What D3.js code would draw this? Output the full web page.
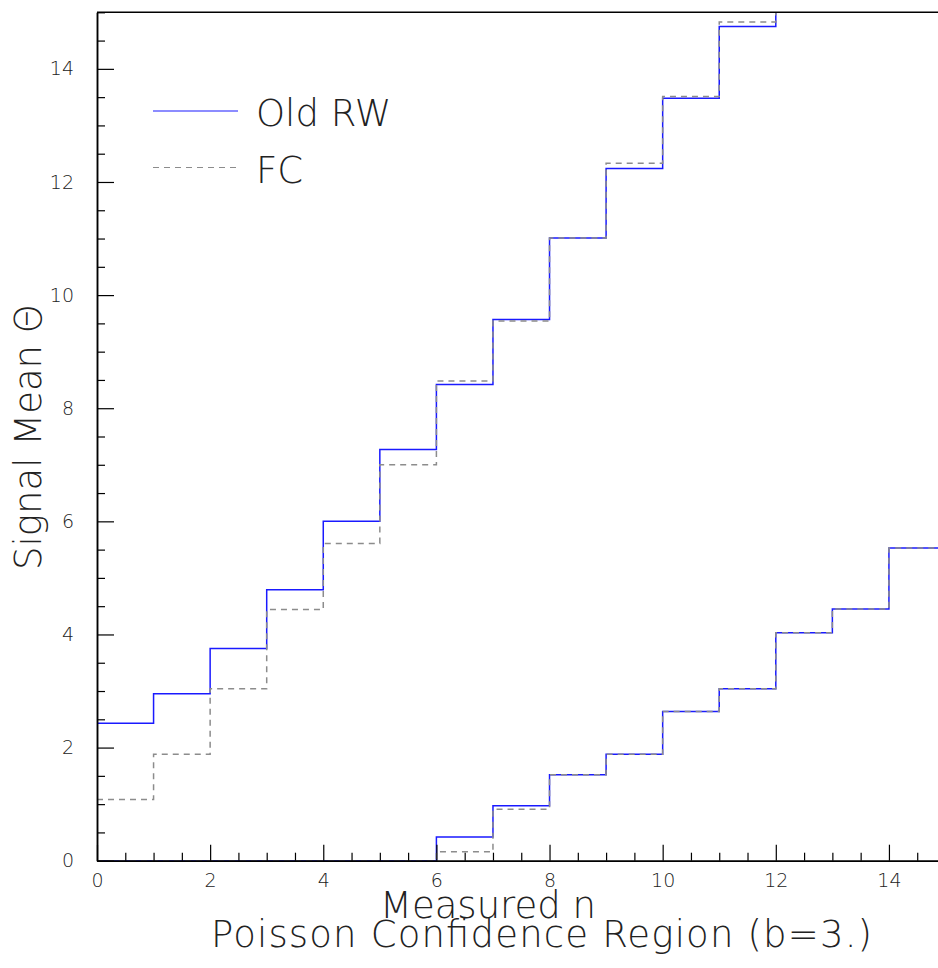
<!DOCTYPE html>
<html>
<head>
<meta charset="utf-8">
<script src="https://cdn.jsdelivr.net/npm/d3@7"></script>
<style>
  html, body { margin: 0; padding: 0; background: #fff; }
  svg { display: block; }
  text { font-family: "DejaVu Sans", "Noto Sans", sans-serif; font-weight: 200; fill: #222; }
</style>
</head>
<body>
<svg id="chart" width="938" height="968"></svg>
<script>
// ---- data ----
// bins n = 0 .. k, each step spans [n, n+1)
const upperRW = [2.43, 2.95, 3.75, 4.79, 6.00, 7.27, 8.42, 9.57, 11.01, 12.24, 13.48, 14.75, 16.2];
const upperFC = [1.08, 1.88, 3.04, 4.44, 5.61, 7.00, 8.48, 9.54, 11.01, 12.33, 13.51, 14.83, 16.2];
const lowerRW = [0, 0, 0, 0, 0, 0, 0.42, 0.97, 1.52, 1.88, 2.64, 3.04, 4.03, 4.45, 5.53];
const lowerFC = [0, 0, 0, 0, 0, 0, 0.16, 0.91, 1.52, 1.88, 2.64, 3.04, 4.03, 4.45, 5.53];
const xTicks = [0, 2, 4, 6, 8, 10, 12, 14];
const yTicks = [0, 2, 4, 6, 8, 10, 12, 14];
const legendLabels = ["Old RW", "FC"];
const xTitle = "Measured n";
const yTitle = "Signal Mean \u0398";
const caption = "Poisson Confidence Region (b=3.)";

// ---- layout ----
const svg = d3.select("#chart");
const x = d3.scaleLinear().domain([0, 15]).range([97, 945.5]);
const y = d3.scaleLinear().domain([0, 15]).range([860.7, 12.3]);

svg.append("defs").append("clipPath").attr("id", "plotclip")
  .append("rect").attr("x", x(0)).attr("y", y(15))
  .attr("width", x(15) - x(0)).attr("height", y(0) - y(15));

const minorX = d3.range(0, 15.01, 0.5).filter(v => v % 2 !== 0);
const minorY = d3.range(0, 15.01, 0.5).filter(v => v % 2 !== 0);

// step series
function stepPts(vals) {
  const pts = vals.map((v, i) => [i, v]);
  pts.push([vals.length, vals[vals.length - 1]]);
  return pts;
}
const line = d3.line().x(d => x(d[0])).y(d => y(d[1])).curve(d3.curveStepAfter);

const g = svg.append("g").attr("clip-path", "url(#plotclip)");
const blue = "#1a1aff";
const grey = "#8c8c8c";
[upperRW, lowerRW].forEach(s => {
  g.append("path").attr("d", line(stepPts(s)))
    .attr("fill", "none").attr("stroke", blue).attr("stroke-width", 1.5);
});
[upperFC, lowerFC].forEach(s => {
  g.append("path").attr("d", line(stepPts(s)))
    .attr("fill", "none").attr("stroke", grey).attr("stroke-width", 1.5)
    .attr("stroke-dasharray", "6,5");
});

// axes
const xMinor = svg.append("g").attr("transform", `translate(0,${y(0)})`)
  .call(d3.axisBottom(x).tickValues(minorX).tickSize(-8).tickSizeOuter(0).tickFormat(""));
const xMajor = svg.append("g").attr("transform", `translate(0,${y(0)})`)
  .call(d3.axisBottom(x).tickValues(xTicks).tickSize(-16).tickSizeOuter(0).tickPadding(13).tickFormat(d3.format("d")));
const yMinor = svg.append("g").attr("transform", `translate(${x(0)},0)`)
  .call(d3.axisLeft(y).tickValues(minorY).tickSize(-8).tickSizeOuter(0).tickFormat(""));
const yMajor = svg.append("g").attr("transform", `translate(${x(0)},0)`)
  .call(d3.axisLeft(y).tickValues(yTicks).tickSize(-17).tickSizeOuter(0).tickPadding(23).tickFormat(d3.format("d")));

[xMinor, xMajor, yMinor, yMajor].forEach(a => {
  a.selectAll("path.domain").attr("stroke", "#000").attr("stroke-width", 1.5);
  a.selectAll(".tick line").attr("stroke", "#000").attr("stroke-width", 1.2);
  a.selectAll("text").attr("font-size", 19).attr("font-family", null).style("fill", "#222");
});

// top frame line
svg.append("line").attr("x1", x(0)).attr("x2", x(15)).attr("y1", y(15)).attr("y2", y(15))
  .attr("stroke", "#000").attr("stroke-width", 1.5);

// titles
svg.append("text").attr("x", 380).attr("y", 918).attr("font-size", 37).text(xTitle);
svg.append("text").attr("x", 211).attr("y", 947).attr("font-size", 37)
  .attr("textLength", 661).attr("lengthAdjust", "spacing").text(caption);
svg.append("text").attr("transform", "translate(41,437) rotate(-90)")
  .attr("text-anchor", "middle").attr("font-size", 37).text(yTitle);

// legend
const legY = [111, 167.5];
const legStyles = [{ c: blue, d: null, w: 1.2 }, { c: grey, d: "6,5", w: 1.2 }];
legendLabels.forEach((lab, i) => {
  svg.append("line").attr("x1", 153).attr("x2", 238).attr("y1", legY[i]).attr("y2", legY[i])
    .attr("stroke", legStyles[i].c).attr("stroke-width", legStyles[i].w)
    .attr("stroke-dasharray", legStyles[i].d);
  svg.append("text").attr("x", 256).attr("y", legY[i] + 15).attr("font-size", 37).text(lab);
});
</script>
</body>
</html>
